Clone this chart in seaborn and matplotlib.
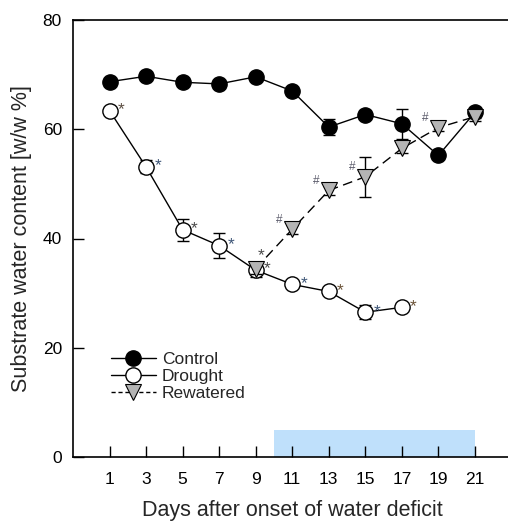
import numpy as np
import pandas as pd
import matplotlib
matplotlib.use("Agg")
import matplotlib.pyplot as plt
from matplotlib.lines import Line2D
from matplotlib.patches import Rectangle
import seaborn as sns

# ---- data ----
days_control = [1, 3, 5, 7, 9, 11, 13, 15, 17, 19, 21]
control = [68.7, 69.7, 68.6, 68.3, 69.6, 67.0, 60.4, 62.7, 61.0, 55.2, 63.1]
control_err = [0.5, 0.5, 0.5, 0.5, 0.5, 0.5, 1.5, 0.8, 2.7, 0.5, 1.0]

days_drought = [1, 3, 5, 7, 9, 11, 13, 15, 17]
drought = [63.4, 53.1, 41.6, 38.7, 34.2, 31.6, 30.3, 26.5, 27.4]
drought_err = [0.5, 1.2, 2.0, 2.3, 1.2, 0.5, 0.5, 1.3, 0.5]

days_rewatered = [9, 11, 13, 15, 17, 19, 21]
rewatered = [34.5, 41.7, 48.8, 51.3, 56.5, 60.3, 62.3]
rewatered_err = [1.0, 0.8, 0.8, 3.7, 0.8, 0.6, 0.8]

star_days = days_drought
star_colors = ["#5a4c40", "#3d5577", "#4a4a4a", "#3d5577", "#4a4a4a",
               "#3d5577", "#6a5236", "#3d5577", "#6a5236"]
hash_days = [11, 13, 15, 19]

xticks = [1, 3, 5, 7, 9, 11, 13, 15, 17, 19, 21]
yticks = [0, 20, 40, 60, 80]
shade_start, shade_end, shade_height = 10, 21, 5

# ---- figure ----
sns.set_style("ticks")
plt.rcParams["font.family"] = ["Liberation Sans", "DejaVu Sans"]

fig = plt.figure(figsize=(5.08, 5.25), dpi=100)
ax = fig.add_axes([73 / 508, 68 / 525, (511.5 - 73) / 508, (457 - 20) / 525])

ax.add_patch(Rectangle((shade_start, 0), shade_end - shade_start, shade_height,
                       facecolor="#bfe0fb", edgecolor="none", zorder=0.5))

df_c = pd.DataFrame({"day": days_control, "val": control})
df_d = pd.DataFrame({"day": days_drought, "val": drought})
df_r = pd.DataFrame({"day": days_rewatered, "val": rewatered})

ekw = dict(fmt="none", ecolor="black", elinewidth=1.0, capsize=4.5, capthick=1.0)
ax.errorbar(days_control, control, yerr=control_err, zorder=2, **ekw)
ax.errorbar(days_drought, drought, yerr=drought_err, zorder=3, **ekw)
ax.errorbar(days_rewatered, rewatered, yerr=rewatered_err, zorder=4, **ekw)

sns.lineplot(data=df_c, x="day", y="val", ax=ax, color="black", lw=1.0,
             marker="o", markersize=11, markerfacecolor="black",
             markeredgecolor="black", markeredgewidth=1.0, zorder=2.5)
sns.lineplot(data=df_d, x="day", y="val", ax=ax, color="black", lw=1.0,
             marker="o", markersize=11, markerfacecolor="white",
             markeredgecolor="black", markeredgewidth=1.0, zorder=3.5)
sns.lineplot(data=df_r, x="day", y="val", ax=ax, color="black", lw=1.0,
             linestyle=(0, (7, 4)),
             marker="v", markersize=11, markerfacecolor="#b4b4b4",
             markeredgecolor="black", markeredgewidth=0.8, zorder=4.5)

# significance markers
for d, v, c in zip(star_days, drought, star_colors):
    ax.text(d + 0.45, v + 0.2, "*", fontsize=12.5, color=c, ha="left",
            va="center", zorder=6)
ax.text(9 + 0.3, 34.5 + 2.4, "*", fontsize=12.5, color="#4a4a4a", ha="center",
        va="center", zorder=6)
for d in hash_days:
    v = rewatered[days_rewatered.index(d)]
    ax.text(d - 0.7, v + 1.7, "#", fontsize=8.5, color="#5a5a6a", ha="center",
            va="center", zorder=6)

ax.set_xlim(-1, 23)
ax.set_ylim(0, 80)
ax.set_xticks(xticks)
ax.set_xticklabels([str(t) for t in xticks])
ax.set_yticks(yticks)
ax.set_yticklabels([str(t) for t in yticks])
ax.tick_params(axis="both", direction="in", length=8, width=1.0,
               labelsize=12.5, colors="black")
ax.tick_params(axis="x", pad=11)
ax.tick_params(axis="y", pad=8)

for s in ["left", "bottom", "top"]:
    ax.spines[s].set_visible(True)
    ax.spines[s].set_linewidth(1.2)
    ax.spines[s].set_color("black")
ax.spines["right"].set_visible(False)

ax.set_xlabel("Days after onset of water deficit", fontsize=15.5, labelpad=9)
ax.set_ylabel("Substrate water content [w/w %]", fontsize=15.5, labelpad=8)

handles = [
    Line2D([], [], color="black", lw=1.0, marker="o", markersize=11,
           markerfacecolor="black", markeredgecolor="black"),
    Line2D([], [], color="black", lw=1.0, marker="o", markersize=11,
           markerfacecolor="white", markeredgecolor="black"),
    Line2D([], [], color="black", lw=1.0, linestyle=(0, (3, 2)), marker="v",
           markersize=11, markerfacecolor="#b4b4b4", markeredgecolor="black",
           markeredgewidth=0.8),
]
ax.legend(handles, ["Control", "Drought", "Rewatered"], loc="upper left",
          bbox_to_anchor=(0.07, 0.257), frameon=False, fontsize=12.5,
          handlelength=2.6, handletextpad=0.35, labelspacing=0.12,
          borderaxespad=0)

fig.savefig("out.png", dpi=100)
